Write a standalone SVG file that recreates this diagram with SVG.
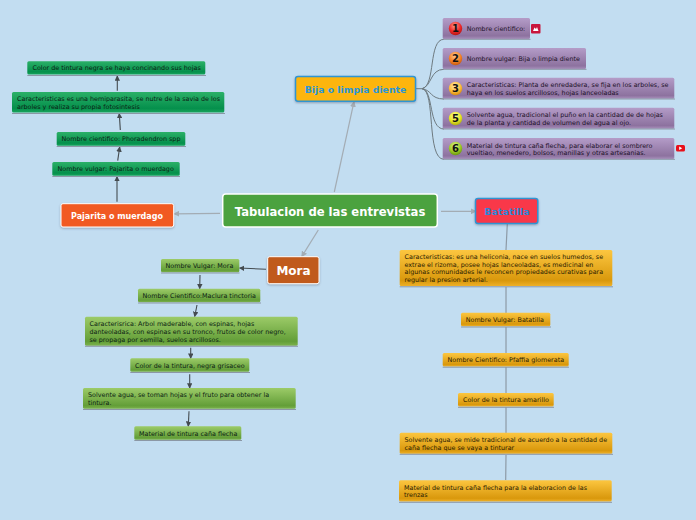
<svg xmlns="http://www.w3.org/2000/svg" width="696" height="520" viewBox="0 0 696 520">
<style>
text{font-family:"DejaVu Sans",Verdana,sans-serif}
.t{font-size:6.4px;fill:#0c1e14}
.p{font-size:6.4px;fill:#1c1028}
.o{font-size:6.4px;fill:#2a1c02}
.m{font-weight:bold;text-anchor:middle}
.u{stroke:#8b97a5;stroke-width:1;fill:none}
.grey{stroke:#a3acb4;stroke-width:1.2;fill:none;marker-end:url(#ag)}
.dark{stroke:#444b50;stroke-width:1.1;fill:none;marker-end:url(#ad)}
.vl{stroke:#8d9aa6;stroke-width:1.2;fill:none}
.cv{stroke:#6e7a80;stroke-width:1;fill:none}
.n{font-size:10px;font-weight:bold;fill:#111;text-anchor:middle}
</style>
<defs>
<marker id="ag" viewBox="0 0 8 8" refX="7" refY="4" markerWidth="5" markerHeight="5" markerUnits="strokeWidth" orient="auto"><path d="M0,0L8,4L0,8z" fill="#a3acb4"/></marker>
<marker id="ad" viewBox="0 0 8 8" refX="7" refY="4" markerWidth="5" markerHeight="5" markerUnits="strokeWidth" orient="auto"><path d="M0,0L8,4L0,8z" fill="#444b50"/></marker>
<linearGradient id="gg" x1="0" y1="0" x2="0" y2="1"><stop offset="0" stop-color="#2bb068"/><stop offset=".8" stop-color="#05904c"/><stop offset="1" stop-color="#19a45c"/></linearGradient>
<linearGradient id="gl" x1="0" y1="0" x2="0" y2="1"><stop offset="0" stop-color="#9ccb68"/><stop offset=".85" stop-color="#639e38"/><stop offset="1" stop-color="#7cb24c"/></linearGradient>
<linearGradient id="gp" x1="0" y1="0" x2="0" y2="1"><stop offset="0" stop-color="#b49cc8"/><stop offset=".85" stop-color="#8d729f"/><stop offset="1" stop-color="#a88fbc"/></linearGradient>
<linearGradient id="go" x1="0" y1="0" x2="0" y2="1"><stop offset="0" stop-color="#fcc640"/><stop offset=".85" stop-color="#d9980c"/><stop offset="1" stop-color="#eeb028"/></linearGradient>
<radialGradient id="r1" cx=".45" cy=".3" r=".7"><stop offset="0" stop-color="#ff9a90"/><stop offset=".6" stop-color="#ee2a2a"/><stop offset="1" stop-color="#b81616"/></radialGradient>
<radialGradient id="r2" cx=".45" cy=".3" r=".7"><stop offset="0" stop-color="#ffc890"/><stop offset=".6" stop-color="#f58428"/><stop offset="1" stop-color="#c85c10"/></radialGradient>
<radialGradient id="r3" cx=".45" cy=".3" r=".7"><stop offset="0" stop-color="#ffe8a8"/><stop offset=".6" stop-color="#fcc040"/><stop offset="1" stop-color="#d88c10"/></radialGradient>
<radialGradient id="r5" cx=".45" cy=".3" r=".7"><stop offset="0" stop-color="#fbfba0"/><stop offset=".6" stop-color="#e8e828"/><stop offset="1" stop-color="#b0b010"/></radialGradient>
<radialGradient id="r6" cx=".45" cy=".3" r=".7"><stop offset="0" stop-color="#dcf090"/><stop offset=".6" stop-color="#a0cc28"/><stop offset="1" stop-color="#6c9810"/></radialGradient>
<filter id="s" x="-10%" y="-20%" width="120%" height="150%"><feDropShadow dx="0" dy="1" stdDeviation="1" flood-color="#556" flood-opacity=".45"/></filter>
</defs>
<rect width="696" height="520" fill="#c2ddf1"/>
<g id="connectors">
<path class="grey" d="M334.3,192L354,101.7"/>
<path class="grey" d="M220,213.4L174,213.8"/>
<path class="grey" d="M318.3,230L301.700,256.700"/>
<path class="grey" d="M441,211.300L476,211.300"/>
<path class="dark" d="M117.300,90.700L117.300,76"/>
<path class="dark" d="M120.300,130L119.300,113.500"/>
<path class="dark" d="M117.700,160.700L119.700,147"/>
<path class="dark" d="M117,201.700L117,176.500"/>
<path class="dark" d="M266,269.300L239.500,268"/>
<path class="dark" d="M200,275L199.700,288.700"/>
<path class="dark" d="M197,305L194.700,316.500"/>
<path class="dark" d="M190.700,347.700L190.700,358.300"/>
<path class="dark" d="M189.700,374.300L189.700,388"/>
<path class="dark" d="M189,411.300L188.300,426.300"/>
<path class="vl" d="M507.300,224L506,250M506,287V313M506,327V353M506,367V393M506,407V433M506,455L505.700,480"/>
<path class="cv" d="M416,88.700H422"/>
<path class="cv" d="M422,88.700C436,86 428,39.300 444,39.300"/>
<path class="cv" d="M422,88.700C432,86 430,69.300 444,69.300"/>
<path class="cv" d="M422,88.700C432,90 430,99 444,99"/>
<path class="cv" d="M422,88.700C434,90 428,129 444,129"/>
<path class="cv" d="M422,88.700C436,90 426,159.300 444,159.300"/>
</g>
<g id="central"><rect x="222.700" y="194" width="214.600" height="33" rx="3" fill="#4ba23f" stroke="#fff" stroke-width="1.500"/><text class="m" x="330" y="215.500" font-size="11.600" fill="#fff">Tabulacion de las entrevistas</text></g>
<g id="bija"><rect x="295.500" y="76.500" width="120" height="24.700" rx="2.500" fill="#fdb511" stroke="#2e95d3" stroke-width="1.500" filter="url(#s)"/><text class="m" x="355.500" y="93" font-size="9.300" fill="#2b96d8">Bija o limpia diente</text></g>
<g id="batatilla"><rect x="475.500" y="198.500" width="62.300" height="25" rx="2.500" fill="#f9374a" stroke="#2e95d3" stroke-width="1.500" filter="url(#s)"/><text class="m" x="507" y="215" font-size="9.500" fill="#2b86d8">Batatilla</text></g>
<g id="pajarita"><rect x="61" y="203.700" width="112.700" height="23.300" rx="2" fill="#f15a22" stroke="#fff" stroke-width="1" filter="url(#s)"/><text class="m" x="117" y="219" font-size="8" fill="#fff">Pajarita o muerdago</text></g>
<g id="mora"><rect x="267.700" y="256.700" width="51.300" height="27" rx="2" fill="#c05a1e" stroke="#fff" stroke-width="1" filter="url(#s)"/><text class="m" x="293.500" y="275" font-size="12" fill="#fff">Mora</text></g>

<g id="g1"><rect x="27.300" y="61.300" width="178" height="13.200" rx="1.500" fill="url(#gg)"/><path class="u" d="M27.300,75.500H206"/><text class="t" x="32.500" y="70">Color de tintura negra se haya concinando sus hojas</text></g>
<g id="g2"><rect x="12" y="92" width="212.300" height="20.500" rx="1.500" fill="url(#gg)"/><path class="u" d="M12,113.500H225"/><text class="t" x="17" y="100.500">Caracteristicas es una hemiparasita, se nutre de la savia de los</text><text class="t" x="17" y="109">arboles y realiza su propia fotosintesis</text></g>
<g id="g3"><rect x="56.700" y="132" width="128.600" height="13.800" rx="1.500" fill="url(#gg)"/><path class="u" d="M56.700,146.500H186"/><text class="t" x="61.500" y="141">Nombre cientifico: Phoradendron spp</text></g>
<g id="g4"><rect x="52.300" y="162" width="127.400" height="13.800" rx="1.500" fill="url(#gg)"/><path class="u" d="M52.300,176.500H180"/><text class="t" x="57.500" y="171">Nombre vulgar: Pajarita o muerdago</text></g>

<g id="p1"><rect x="442.700" y="18" width="87.300" height="21" rx="1.500" fill="url(#gp)"/><path class="u" d="M442.700,39.300H530.500"/><circle cx="455.500" cy="28.500" r="6.700" fill="url(#r1)"/><text class="n" x="455.500" y="32.200">1</text><text class="p" x="466.700" y="31">Nombre cientifico:</text></g>
<g id="i1"><rect x="531" y="24" width="9.500" height="9.500" rx="1" fill="#c8163c"/><path d="M533,31l1.500-3.500 1.500,1.500 1-2 1.500,4z" fill="#fff"/></g>
<g id="p2"><rect x="442.700" y="48" width="143.300" height="21" rx="1.500" fill="url(#gp)"/><path class="u" d="M442.700,69.300H586.500"/><circle cx="455.500" cy="58.500" r="6.700" fill="url(#r2)"/><text class="n" x="455.500" y="62.200">2</text><text class="p" x="466.700" y="61">Nombre vulgar: Bija o limpia diente</text></g>
<g id="p3"><rect x="442.700" y="77.700" width="231.600" height="21" rx="1.500" fill="url(#gp)"/><path class="u" d="M442.700,99H675"/><circle cx="455.500" cy="88.500" r="6.700" fill="url(#r3)"/><text class="n" x="455.500" y="92.200">3</text><text class="p" x="466.700" y="87">Caracteristicas: Planta de enredadera, se fija en los arboles, se</text><text class="p" x="466.700" y="94.500">haya en los suelos arcillosos, hojas lanceoladas</text></g>
<g id="p5"><rect x="442.700" y="107.700" width="231.600" height="21" rx="1.500" fill="url(#gp)"/><path class="u" d="M442.700,129H675"/><circle cx="455.500" cy="118.500" r="6.700" fill="url(#r5)"/><text class="n" x="455.500" y="122.200">5</text><text class="p" x="466.700" y="117">Solvente agua,  tradicional el puño en la cantidad de de hojas</text><text class="p" x="466.700" y="125">de la planta y cantidad de volumen del agua al ojo.</text></g>
<g id="p6"><rect x="442.700" y="138" width="231.600" height="21" rx="1.500" fill="url(#gp)"/><path class="u" d="M442.700,159.300H675"/><circle cx="455.500" cy="148.500" r="6.700" fill="url(#r6)"/><text class="n" x="455.500" y="152.200">6</text><text class="p" x="466.700" y="147.500">Material de tintura caña flecha, para elaborar el sombrero</text><text class="p" x="466.700" y="155">vueltiao, menedero, bolsos, manillas y otras artesanias.</text></g>
<g id="i6"><rect x="676" y="145" width="9" height="6.500" rx="1.500" fill="#e8101a"/><path d="M679.200,146.500l3,1.700-3,1.700z" fill="#fff"/></g>

<g id="m1"><rect x="161" y="259" width="78.300" height="13.300" rx="1.500" fill="url(#gl)"/><path class="u" d="M161,273H239.500"/><text class="t" x="165.500" y="267.800">Nombre Vulgar: Mora</text></g>
<g id="m2"><rect x="138" y="288.700" width="122.300" height="13.500" rx="1.500" fill="url(#gl)"/><path class="u" d="M138,303H261"/><text class="t" x="142.500" y="297.800">Nombre Cientifico:Maclura tinctoria</text></g>
<g id="m3"><rect x="85" y="316.700" width="212.700" height="29" rx="1.500" fill="url(#gl)"/><path class="u" d="M85,346.300H298"/><text class="t" x="89.500" y="325.500">Caracterisrica: Arbol maderable, con espinas,  hojas</text><text class="t" x="89.500" y="333.500">danteoladas, con espinas en su tronco, frutos de color negro,</text><text class="t" x="89.500" y="341.500">se propaga por semilla, suelos arcillosos.</text></g>
<g id="m4"><rect x="130.300" y="358.300" width="119" height="13.500" rx="1.500" fill="url(#gl)"/><path class="u" d="M130.300,372.500H250"/><text class="t" x="135" y="367.500">Color de la tintura, negra grisaceo</text></g>
<g id="m5"><rect x="83" y="388" width="212.700" height="20.800" rx="1.500" fill="url(#gl)"/><path class="u" d="M83,409.500H296"/><text class="t" x="88" y="396.800">Solvente agua, se toman hojas y el fruto para obtener la</text><text class="t" x="88" y="405">tintura.</text></g>
<g id="m6"><rect x="134.300" y="426.300" width="107" height="13.500" rx="1.500" fill="url(#gl)"/><path class="u" d="M134.300,440.500H242"/><text class="t" x="139" y="435.500">Material de tintura caña flecha</text></g>

<g id="b1"><rect x="399.700" y="250" width="212.600" height="36" rx="1.500" fill="url(#go)"/><path class="u" d="M399.700,286.800H613"/><text class="o" x="404.500" y="258.500">Caracteristicas: es una heliconia, nace en suelos humedos, se</text><text class="o" x="404.500" y="266.500">extrae el rizoma, posee hojas lanceoladas, es medicinal en</text><text class="o" x="404.500" y="274">algunas comunidades le reconcen propiedades curativas para</text><text class="o" x="404.500" y="282">regular la presion arterial.</text></g>
<g id="b2"><rect x="461" y="312.700" width="89.300" height="13.500" rx="1.500" fill="url(#go)"/><path class="u" d="M461,327H551"/><text class="o" x="465.700" y="321.700">Nombre Vulgar: Batatilla</text></g>
<g id="b3"><rect x="442.700" y="353" width="126" height="13.500" rx="1.500" fill="url(#go)"/><path class="u" d="M442.700,367.200H569"/><text class="o" x="447.500" y="362">Nombre Cientifico: Pfaffia glomerata</text></g>
<g id="b4"><rect x="458" y="393" width="95.700" height="13.500" rx="1.500" fill="url(#go)"/><path class="u" d="M458,407.300H554"/><text class="o" x="463" y="402">Color de la tintura amarillo</text></g>
<g id="b5"><rect x="399.700" y="432.700" width="212.600" height="21" rx="1.500" fill="url(#go)"/><path class="u" d="M399.700,454.300H613"/><text class="o" x="404.500" y="441.500">Solvente agua, se mide tradicional de acuerdo a la cantidad de</text><text class="o" x="404.500" y="450">caña flecha que se vaya a tinturar</text></g>
<g id="b6"><rect x="399" y="480.300" width="212.700" height="21.200" rx="1.500" fill="url(#go)"/><path class="u" d="M399,502.300H612"/><text class="o" x="404" y="489.500">Material de tintura caña flecha para la elaboracion de las</text><text class="o" x="404" y="497">trenzas</text></g>
</svg>
